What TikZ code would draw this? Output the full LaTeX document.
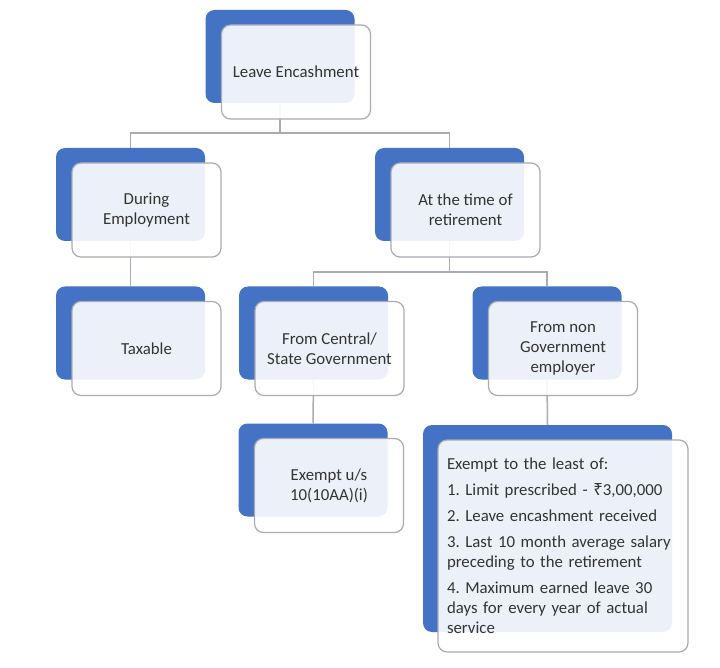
\documentclass[tikz,border=0pt]{standalone}
\usepackage{fontspec}
\setmainfont{Carlito}
\newfontfamily\rupeefont{Noto Sans}
\definecolor{boxblue}{HTML}{4472C4}
\definecolor{linegray}{HTML}{A9ACB4}
\definecolor{textgray}{HTML}{333333}
\tikzset{
  back/.style={
    rectangle,
    rounded corners=9pt,
    fill=boxblue,
    minimum width=149pt,
    minimum height=93pt
  },
  front/.style={
    rectangle,
    rounded corners=9pt,
    draw=linegray,
    line width=1.2pt,
    fill=white,
    fill opacity=0.9,
    text opacity=1,
    text=textgray,
    align=center,
    minimum width=149pt,
    minimum height=94pt,
    font=\fontsize{16.8}{20}\selectfont\frenchspacing
  },
  link/.style={draw=linegray, line width=1.5pt},
  off/.style={shift={(16,15.5)}}
}

\begin{document}
\begin{tikzpicture}[x=1pt, y=-1pt]
    \useasboundingbox[fill=white] (0,0) rectangle (720,668);
    % blue backs
    \node[back] (leaveB) at (280, 56.5) {};
    \node[back] (duringB) at (130.5, 194.5) {};
    \node[back] (retireB) at (449.5, 194.5) {};
    \node[back] (taxB) at (130.5, 333) {};
    \node[back] (centralB) at (313.5, 333) {};
    \node[back] (nongovB) at (547, 333) {};
    \node[back] (exemptB) at (313, 470) {};
    \node[back, minimum width=249pt, minimum height=207pt] (leastB) at (547.5, 528.5) {};
    % connectors
    \draw[link] (leaveB.south) -- ++(0, 30) -| (duringB.north);
    \draw[link] (leaveB.south) -- ++(0, 30) -| (retireB.north);
    \draw[link] (duringB.south) -- (taxB.north);
    \draw[link] (retireB.south) -- ++(0, 31) -| (centralB.north);
    \draw[link] (retireB.south) -- ++(0, 31) -| (nongovB.north);
    \draw[link] (centralB.south) -- (exemptB.north);
    \draw[link] (nongovB.south) -- (leastB.north);
    % white fronts
    \node[front] (leave) at ([off]leaveB.center) {Leave Encashment};
    \node[front] (during) at ([off]duringB.center) {During\\Employment};
    \node[front] (retire) at ([off]retireB.center) {At the time of\\retirement};
    \node[front] (tax) at ([off]taxB.center) {Taxable};
    \node[front] (central) at ([off]centralB.center) {From Central/\\State Government};
    \node[front] (nongov) at ([off]nongovB.center) {From non\\Government\\employer};
    \node[front] (exempt) at ([off]exemptB.center) {Exempt u/s\\10(10AA)(i)};
    \node[front, minimum width=250pt, minimum height=212pt, align=left, text width=232pt] (least) at ([shift={(15.5,17.5)}]leastB.center)
        {Exempt to the least of:\\[6pt]
         1. Limit prescribed - {\rupeefont ₹}3,00,000\\[6pt]
         2. Leave encashment received\\[6pt]
         3. Last 10 month average salary\\preceding to the retirement\\[6pt]
         4. Maximum earned leave 30\\days for every year of actual\\service};
\end{tikzpicture}
\end{document}
